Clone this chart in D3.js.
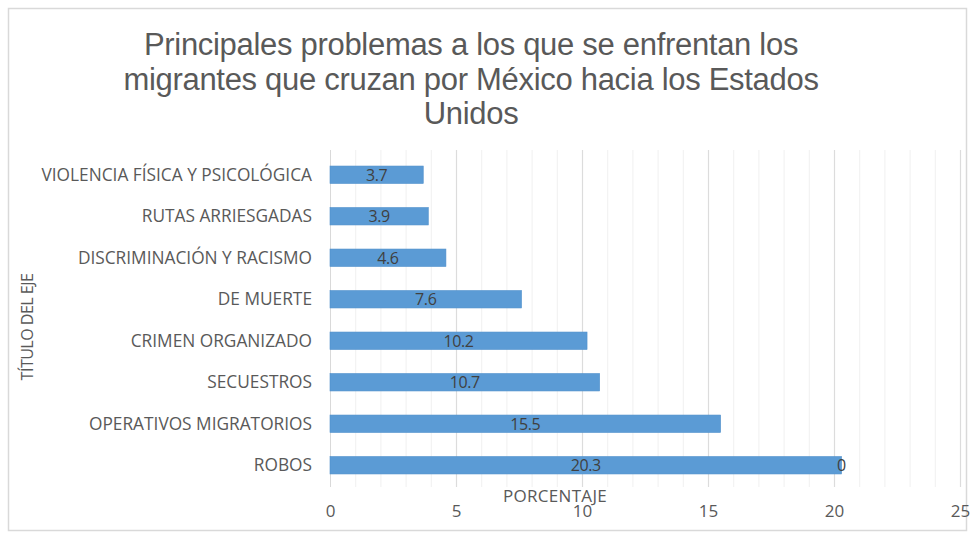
<!DOCTYPE html>
<html><head><meta charset="utf-8">
<script src="https://cdn.jsdelivr.net/npm/d3@7"></script>
<style>body{margin:0;background:#fff}svg{display:block}</style>
</head><body>
<svg id="c" width="973" height="535"></svg>
<script>
const titleLines = ["Principales problemas a los que se enfrentan los", "migrantes que cruzan por México hacia los Estados", "Unidos"];
const categories = ["VIOLENCIA FÍSICA Y PSICOLÓGICA","RUTAS ARRIESGADAS","DISCRIMINACIÓN Y RACISMO","DE MUERTE","CRIMEN ORGANIZADO","SECUESTROS","OPERATIVOS MIGRATORIOS","ROBOS"];
const values = [3.7,3.9,4.6,7.6,10.2,10.7,15.5,20.3];
const secondSeries = [null,null,null,null,null,null,null,0];
const xTicks = [0,5,10,15,20,25];
const xAxisTitle = "PORCENTAJE";
const yAxisTitle = "TÍTULO DEL EJE";

const svg = d3.select("#c");
svg.append("rect").attr("x",8.5).attr("y",8.5).attr("width",958).attr("height",522)
  .attr("fill","#fff").attr("stroke","#d9d9d9").attr("stroke-width",1.5);

const L=330,R=960,T=154,B=486;
const x = d3.scaleLinear().domain([0,25]).range([L,R]);
const y = d3.scaleBand().domain(categories).range([T,B]).paddingInner(0.58).paddingOuter(0.29);

const g = svg.append("g");
g.selectAll(".minor").data(d3.range(1,26).filter(v=>v%5!==0)).join("line")
  .attr("x1",d=>x(d)+0.5).attr("x2",d=>x(d)+0.5).attr("y1",150).attr("y2",487)
  .attr("stroke","#f0f0f0").attr("stroke-width",1);
g.selectAll(".major").data(xTicks.filter(v=>v>0)).join("line")
  .attr("x1",d=>x(d)+0.5).attr("x2",d=>x(d)+0.5).attr("y1",150).attr("y2",487)
  .attr("stroke","#dcdcdc").attr("stroke-width",1.2);
svg.append("line").attr("x1",L+0.5).attr("x2",L+0.5).attr("y1",150).attr("y2",487).attr("stroke","#d9d9d9");

svg.selectAll(".bar").data(values).join("rect")
  .attr("x",x(0)).attr("y",(d,i)=>y(categories[i]))
  .attr("width",d=>x(d)-x(0)).attr("height",y.bandwidth())
  .attr("fill","#5b9bd5").attr("stroke","#4f8fcb").attr("stroke-width",0.6);

const FF = "Open Sans, sans-serif";
svg.selectAll(".vl").data(values).join("text")
  .attr("x",d=>(x(d)+x(0))/2).attr("y",(d,i)=>y(categories[i])+y.bandwidth()/2)
  .attr("dy","0.36em").attr("text-anchor","middle")
  .attr("font-family",FF).attr("font-size",16).attr("fill","#404040").attr("letter-spacing","-0.4px")
  .text(d=>d);
svg.selectAll(".sl").data(secondSeries.map((v,i)=>({v,i})).filter(o=>o.v!==null)).join("text")
  .attr("x",o=>x(values[o.i])+0).attr("y",o=>y(categories[o.i])+y.bandwidth()/2)
  .attr("dy","0.36em").attr("text-anchor","middle")
  .attr("font-family",FF).attr("font-size",16).attr("fill","#404040")
  .text(o=>o.v);

svg.selectAll(".cl").data(categories).join("text")
  .attr("x",312).attr("y",d=>y(d)+y.bandwidth()/2).attr("dy","0.36em").attr("text-anchor","end")
  .attr("font-family",FF).attr("font-size",17.3).attr("fill","#595959")
  .text(d=>d);

const xa = svg.append("g").attr("transform",`translate(0,${B})`)
  .call(d3.axisBottom(x).tickValues(xTicks).tickSize(0).tickPadding(19));
xa.select(".domain").remove();
xa.selectAll("text").attr("font-family",FF).attr("font-size",17).attr("fill","#595959");

svg.append("text").attr("x",555).attr("y",502).attr("text-anchor","middle")
  .attr("font-family",FF).attr("font-size",17).attr("fill","#595959")
  .attr("letter-spacing","0.3px").text(xAxisTitle);
svg.append("text").attr("transform","translate(33,327) rotate(-90)").attr("text-anchor","middle")
  .attr("font-family",FF).attr("font-size",16).attr("fill","#595959")
  .attr("letter-spacing","-0.5px").text(yAxisTitle);

svg.selectAll(".tt").data(titleLines).join("text")
  .attr("x",471).attr("y",(d,i)=>55+i*34.5).attr("text-anchor","middle")
  .attr("font-family","Liberation Sans, Arial, sans-serif").attr("font-size",31).attr("fill","#595959")
  .attr("letter-spacing","-0.3px")
  .text(d=>d);
</script>
</body></html>
